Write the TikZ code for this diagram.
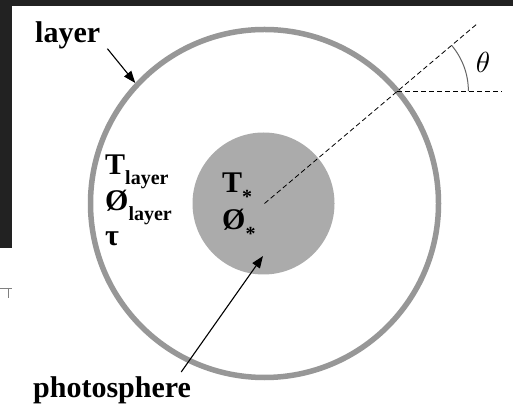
\documentclass[tikz,border=0pt]{standalone}
\usepackage{fontspec}
\setmainfont{Liberation Serif}
\usepackage{xcolor}
\usepackage{tikz}
\usetikzlibrary{arrows.meta, calc}
\definecolor{bandgray}{HTML}{222222}
\definecolor{ringgray}{HTML}{979797}
\definecolor{diskgray}{HTML}{ABABAB}
\definecolor{arcgray}{HTML}{666666}
\newcommand{\subtxt}[1]{\raisebox{-10pt}{\fontsize{20}{24}\selectfont #1}}
\newcommand{\subast}{\raisebox{-11pt}{\fontsize{20}{24}\selectfont *}}

\begin{document}
\begin{tikzpicture}[x=1pt, y=1pt,
	lbl/.style={font=\fontsize{30}{36}\selectfont\bfseries, inner sep=0pt, anchor=base west},
	pointer/.style={-{Triangle[length=12pt, width=9pt]}, line width=1.1pt},
	guide/.style={dash pattern=on 5pt off 3pt, line width=0.8pt}]
				% Frame of the screenshot:
				\useasboundingbox (0,0) rectangle (513,409);
				\fill[white] (0,0) rectangle (513,409);
				\fill[bandgray] (0,403) rectangle (513,409);
				\fill[bandgray] (0,161) rectangle (12,409);
				\draw[gray, line width=0.8pt] (0,121) -- (12,121) (8,121) -- (8,111);
				% Star and layer:
				\coordinate (o) at (264.5,205.5);
				\node[circle, draw=ringgray, line width=5.5pt, minimum size=348pt, inner sep=0pt] (ring) at (o) {};
				\node[circle, fill=diskgray, minimum size=142pt, inner sep=0pt] (disk) at (263.5,205.5) {};
				% Line of sight and angle:
				\coordinate (hit) at ($(o)+(40.2:174)$);
				\coordinate (far) at ($(o)+(40.2:277)$);
				\coordinate (flat) at ($(hit)+(105,0)$);
				\draw[guide] (o) -- (far);
				\draw[guide] (hit) -- (flat);
				\draw[arcgray, line width=1pt] ($(hit)+(71,0)$) arc[start angle=0, end angle=40.2, radius=71];
				\node[scale=2.9, inner sep=0pt] (th) at (483,347) {$\theta$};
				% Labels:
				\node[lbl] (lay) at (35,366) {layer};
				\node[lbl] (tl) at (105,234) {T\subtxt{layer}};
				\node[lbl] (pl) at (105,198) {Ø\subtxt{layer}};
				\node[lbl] (tau) at (105,163) {τ};
				\node[lbl] (ts) at (222,216) {T\subast};
				\node[lbl] (ps) at (222,179) {Ø\subast};
				\node[lbl] (ph) at (33,12) {photosphere};
				\coordinate (phtip) at (263,153);
				\draw[pointer] ([shift={(7pt,1pt)}]lay.south east) -- (ring.137.5);
				\draw[pointer] ([shift={(-10pt,4pt)}]ph.north east) -- (phtip);
\end{tikzpicture}
\end{document}
